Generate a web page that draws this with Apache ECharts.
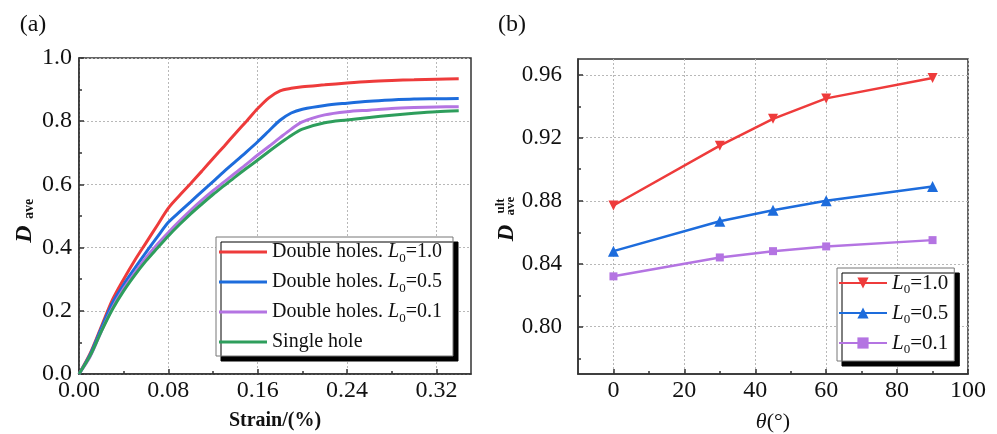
<!DOCTYPE html>
<html><head><meta charset="utf-8">
<script src="https://cdn.jsdelivr.net/npm/echarts@6/dist/echarts.min.js"></script>
<style>html,body{margin:0;padding:0;background:#fff}#c{width:997px;height:434px}</style>
</head><body><div id="c"></div>
<script>
// ---------- data: panel (a) ----------
const strain = [0,0.01,0.02,0.03,0.04,0.05,0.06,0.07,0.08,0.09,0.10,0.11,0.12,0.13,0.14,0.15,0.16,0.17,0.18,0.19,0.20,0.22,0.24,0.26,0.28,0.30,0.32,0.34];
const dDouble10 = [0,0.065,0.15,0.235,0.30,0.36,0.415,0.47,0.525,0.565,0.603,0.642,0.682,0.721,0.761,0.80,0.84,0.874,0.896,0.904,0.909,0.915,0.921,0.926,0.929,0.931,0.933,0.934];
const dDouble05 = [0,0.062,0.145,0.225,0.283,0.335,0.385,0.433,0.48,0.513,0.545,0.577,0.609,0.641,0.672,0.703,0.735,0.769,0.803,0.826,0.838,0.85,0.857,0.863,0.867,0.87,0.871,0.872];
const dDouble01 = [0,0.055,0.135,0.21,0.27,0.32,0.368,0.41,0.448,0.484,0.518,0.55,0.58,0.608,0.636,0.664,0.693,0.72,0.748,0.775,0.798,0.82,0.83,0.835,0.84,0.843,0.845,0.846];
const dSingle   = [0,0.058,0.135,0.205,0.263,0.313,0.358,0.398,0.437,0.473,0.507,0.538,0.568,0.596,0.624,0.651,0.677,0.704,0.73,0.755,0.775,0.795,0.804,0.812,0.819,0.825,0.83,0.833];
const namesA = ['Double holes. L0=1.0','Double holes. L0=0.5','Double holes. L0=0.1','Single hole'];
const strainTicks = [0,0.08,0.16,0.24,0.32];
const strainMinor = [0.04,0.12,0.20,0.28];
const dTicks = [0,0.2,0.4,0.6,0.8,1.0];
const dMinor = [0.1,0.3,0.5,0.7,0.9];

// ---------- data: panel (b) ----------
const theta = [0,30,45,60,90];
const ultL10 = [0.877,0.915,0.932,0.945,0.958];
const ultL05 = [0.848,0.867,0.874,0.880,0.889];
const ultL01 = [0.832,0.844,0.848,0.851,0.855];
const namesB = ['L0=1.0','L0=0.5','L0=0.1'];
const thetaTicks = [0,20,40,60,80,100];
const thetaMinor = [10,30,50,70,90];
const ultTicks = [0.80,0.84,0.88,0.92,0.96];
const ultMinor = [0.78,0.82,0.86,0.90,0.94];

const FF = '"Liberation Serif","Times New Roman",serif';
const RED = '#EE3B3B', BLUE = '#1D6CDC', PURPLE = '#B474E2', GREEN = '#2E9E5C';
const AX = '#333';

function mainAxis(gridIndex, min, max, ticks, fmt, margin, fontSize) {
  return {
    type: 'value', gridIndex, min, max,
    axisLine: { show: true, onZero: false, lineStyle: { color: AX, width: 1.5 } },
    axisTick: { show: true, inside: true, length: 5, customValues: ticks, lineStyle: { color: AX, width: 1.5 } },
    axisLabel: { customValues: ticks, formatter: fmt, margin, color: '#111', fontFamily: FF, fontSize, showMinLabel: true, showMaxLabel: true },
    splitLine: { show: true, lineStyle: { color: '#b8b8b8', type: [2, 2], width: 1 } }
  };
}
function minorAxis(gridIndex, min, max, ticks, position) {
  return {
    type: 'value', gridIndex, min, max, position,
    axisLine: { show: false, onZero: false },
    axisTick: { show: true, inside: true, length: 3, customValues: ticks, lineStyle: { color: AX, width: 1.5 } },
    axisLabel: { show: false },
    splitLine: { show: false }
  };
}
const pairs = (xs, ys) => xs.map((x, i) => [x, ys[i]]);
const richStyle = (fs) => ({
  i: { fontStyle: 'italic', fontSize: fs, fontFamily: FF, lineHeight: 26, color: '#111' },
  s: { fontSize: 13, fontFamily: FF, lineHeight: 13, verticalAlign: 'bottom', color: '#111' }
});
const fmtName = (n) => n.replace('L0', '{i|L}{s|0}');

const chart = echarts.init(document.getElementById('c'), null, { renderer: 'canvas' });
chart.setOption({
  backgroundColor: '#fff',
  animation: false,
  grid: [
    { left: 79, top: 58, width: 392, height: 316, show: true, borderColor: AX, borderWidth: 1.5, backgroundColor: 'transparent' },
    { left: 578, top: 59, width: 390, height: 315, show: true, borderColor: AX, borderWidth: 1.5, backgroundColor: 'transparent' }
  ],
  xAxis: [
    mainAxis(0, 0, 0.351, strainTicks, v => v.toFixed(2), 5, 24),
    minorAxis(0, 0, 0.351, strainMinor, 'bottom'),
    mainAxis(1, -10, 100, thetaTicks, v => String(Math.round(v)), 5, 24),
    minorAxis(1, -10, 100, thetaMinor, 'bottom')
  ],
  yAxis: [
    mainAxis(0, 0, 1, dTicks, v => v.toFixed(1), 7, 24),
    minorAxis(0, 0, 1, dMinor, 'left'),
    mainAxis(1, 0.77, 0.97, ultTicks, v => v.toFixed(2), 16, 23),
    minorAxis(1, 0.77, 0.97, ultMinor, 'left')
  ],
  legend: [
    {
      data: namesA, orient: 'vertical', left: 216, top: 237, icon: 'rect',
      itemWidth: 48, itemHeight: 3, itemGap: 4, padding: [2, 11, 1, 3],
      backgroundColor: '#fff', borderColor: '#777', borderWidth: 1,
      shadowColor: '#000', shadowOffsetX: 5, shadowOffsetY: 5, shadowBlur: 0,
      selectedMode: false,
      formatter: fmtName,
      textStyle: { fontFamily: FF, fontSize: 20, color: '#111', lineHeight: 26, rich: richStyle(20) }
    },
    {
      data: namesB, orient: 'vertical', left: 837, top: 268,
      itemWidth: 48, itemHeight: 14, itemGap: 4, padding: [2, 6, 5, 1],
      backgroundColor: '#fff', borderColor: '#777', borderWidth: 1,
      shadowColor: '#000', shadowOffsetX: 5, shadowOffsetY: 5, shadowBlur: 0,
      selectedMode: false,
      formatter: fmtName,
      textStyle: { fontFamily: FF, fontSize: 21, color: '#111', lineHeight: 26, rich: richStyle(21) }
    }
  ],
  series: [
    { name: namesA[0], type: 'line', xAxisIndex: 0, yAxisIndex: 0, data: pairs(strain, dDouble10), symbol: 'none', smooth: 0.3, color: RED, lineStyle: { width: 3, color: RED } },
    { name: namesA[1], type: 'line', xAxisIndex: 0, yAxisIndex: 0, data: pairs(strain, dDouble05), symbol: 'none', smooth: 0.3, color: BLUE, lineStyle: { width: 3, color: BLUE } },
    { name: namesA[2], type: 'line', xAxisIndex: 0, yAxisIndex: 0, data: pairs(strain, dDouble01), symbol: 'none', smooth: 0.3, color: PURPLE, lineStyle: { width: 3, color: PURPLE } },
    { name: namesA[3], type: 'line', xAxisIndex: 0, yAxisIndex: 0, data: pairs(strain, dSingle), symbol: 'none', smooth: 0.3, color: GREEN, lineStyle: { width: 3, color: GREEN } },
    { name: namesB[0], type: 'line', xAxisIndex: 2, yAxisIndex: 2, data: pairs(theta, ultL10), symbol: 'triangle', symbolRotate: 180, symbolSize: 10, color: RED, lineStyle: { width: 2.5, color: RED }, itemStyle: { color: RED } },
    { name: namesB[1], type: 'line', xAxisIndex: 2, yAxisIndex: 2, data: pairs(theta, ultL05), symbol: 'triangle', symbolSize: 11, color: BLUE, lineStyle: { width: 2.5, color: BLUE }, itemStyle: { color: BLUE } },
    { name: namesB[2], type: 'line', xAxisIndex: 2, yAxisIndex: 2, data: pairs(theta, ultL01), symbol: 'rect', symbolSize: 8, color: PURPLE, lineStyle: { width: 2.5, color: PURPLE }, itemStyle: { color: PURPLE } }
  ],
  graphic: [
    { type: 'text', x: 33, y: 25, style: { text: '(a)', font: '24px ' + FF, fill: '#111', align: 'center', verticalAlign: 'middle' } },
    { type: 'text', x: 512, y: 25, style: { text: '(b)', font: '24px ' + FF, fill: '#111', align: 'center', verticalAlign: 'middle' } },
    { type: 'text', x: 275, y: 421, style: { text: 'Strain/(%)', font: 'bold 20px ' + FF, fill: '#111', align: 'center', verticalAlign: 'middle' } },
    { type: 'text', x: 773, y: 422, style: { text: '{t|θ}(°)', font: '22px ' + FF, fill: '#111', align: 'center', verticalAlign: 'middle', rich: { t: { fontStyle: 'italic', fontSize: 22, fontFamily: FF } } } },
    { type: 'text', x: 25, y: 234, rotation: Math.PI / 2, style: { text: 'D', font: 'italic bold 24px ' + FF, fill: '#111', align: 'center', verticalAlign: 'middle' } },
    { type: 'text', x: 29, y: 209, rotation: Math.PI / 2, style: { text: 'ave', font: 'bold 14px ' + FF, fill: '#111', align: 'center', verticalAlign: 'middle' } },
    { type: 'text', x: 507, y: 233, rotation: Math.PI / 2, style: { text: 'D', font: 'italic bold 23px ' + FF, fill: '#111', align: 'center', verticalAlign: 'middle' } },
    { type: 'text', x: 501, y: 206, rotation: Math.PI / 2, style: { text: 'ult', font: 'bold 13px ' + FF, fill: '#111', align: 'center', verticalAlign: 'middle' } },
    { type: 'text', x: 511, y: 206, rotation: Math.PI / 2, style: { text: 'ave', font: 'bold 13px ' + FF, fill: '#111', align: 'center', verticalAlign: 'middle' } }
  ]
});
</script>
</body></html>
